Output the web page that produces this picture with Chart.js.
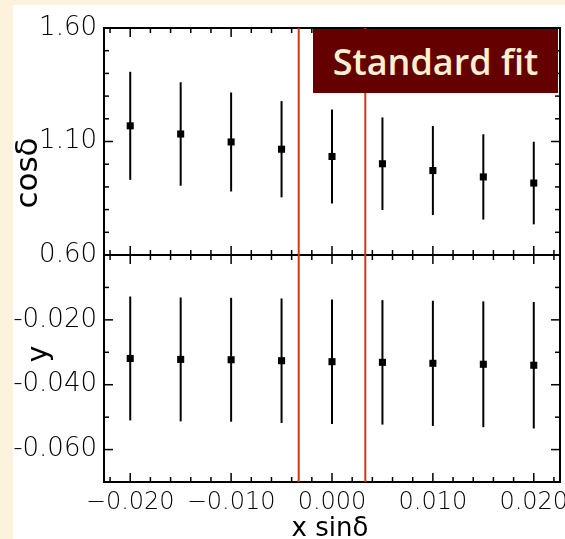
<!DOCTYPE html>
<html>
<head>
<meta charset="utf-8">
<script src="https://cdn.jsdelivr.net/npm/chart.js@4.4.1/dist/chart.umd.min.js"></script>
<style>
    html, body { margin: 0; padding: 0; background: #fdf2dc; width: 565px; height: 539px; overflow: hidden; }
    #wrap { position: absolute; left: 13px; top: 5px; width: 552px; height: 534px; background: #fff; }
    #fitbox {
        position: absolute; left: 313px; top: 29px; width: 245px; height: 64px;
        background: #640000; color: #fdf0d2;
        font: 600 36px 'Open Sans', sans-serif;
        display: flex; align-items: center; justify-content: center;
    }
</style>
</head>
<body>
<div id="wrap"><canvas id="chart" width="552" height="534"></canvas></div>
<div id="fitbox">Standard fit</div>
<script>
// x sin(delta) positions
var xValues = [-0.020, -0.015, -0.010, -0.005, 0.000, 0.005, 0.010, 0.015, 0.020];
// top panel: cos(delta) and its error
var cosDelta = [1.169, 1.133, 1.098, 1.066, 1.034, 1.002, 0.972, 0.944, 0.917];
var cosDeltaErr = [0.238, 0.228, 0.218, 0.212, 0.207, 0.204, 0.196, 0.188, 0.182];
// bottom panel: y and its error
var yValues = [-0.0319, -0.0322, -0.0323, -0.0326, -0.0329, -0.0331, -0.0334, -0.0337, -0.0340];
var yErr = [0.0191, 0.0191, 0.0191, 0.0192, 0.0192, 0.0192, 0.0193, 0.0194, 0.0195];
// standard fit range (red lines)
var fitEdges = [-0.0033, 0.0033];
// labelled ticks
var xMajorTicks = [-0.020, -0.010, 0.000, 0.010, 0.020];
var cosTicks = [0.60, 1.10, 1.60];
var yTicks = [-0.020, -0.040, -0.060];

var labelFont = "'DejaVu Sans', sans-serif";

function isMajor(v, list) {
    return list.some(function (m) { return Math.abs(m - v) < 1e-9; });
}

function line(ctx, x1, y1, x2, y2) {
    ctx.beginPath();
    ctx.moveTo(x1, y1);
    ctx.lineTo(x2, y2);
    ctx.stroke();
}

var panelPlugin = {
    id: 'panels',
    beforeDatasetsDraw: function (chart) {
        var ctx = chart.ctx;
        var x = chart.scales.x, yt = chart.scales.yTop, yb = chart.scales.yBot;
        ctx.save();
        ctx.lineWidth = 2;
        ctx.strokeStyle = '#000';
        // error bars
        xValues.forEach(function (v, i) {
            var px = x.getPixelForValue(v);
            line(ctx, px, yt.getPixelForValue(cosDelta[i] + cosDeltaErr[i]), px, yt.getPixelForValue(cosDelta[i] - cosDeltaErr[i]));
            line(ctx, px, yb.getPixelForValue(yValues[i] + yErr[i]), px, yb.getPixelForValue(yValues[i] - yErr[i]));
        });
        ctx.restore();
    },
    afterDraw: function (chart) {
        var ctx = chart.ctx, a = chart.chartArea;
        var x = chart.scales.x, yt = chart.scales.yTop, yb = chart.scales.yBot;
        ctx.save();
        ctx.strokeStyle = '#000';
        ctx.lineWidth = 2;
        // frame and panel divider
        ctx.strokeRect(a.left, a.top, a.right - a.left, a.bottom - a.top);
        line(ctx, a.left, yt.bottom, a.right, yt.bottom);
        // inward tick marks
        ctx.lineWidth = 1.5;
        x.ticks.forEach(function (t) {
            var px = x.getPixelForValue(t.value);
            var len = isMajor(t.value, xMajorTicks) ? 9 : 5;
            line(ctx, px, a.top, px, a.top + len);
            line(ctx, px, yt.bottom, px, yt.bottom - len);
            line(ctx, px, yb.top, px, yb.top + len);
            line(ctx, px, a.bottom, px, a.bottom - len);
        });
        [[yt, cosTicks], [yb, yTicks]].forEach(function (p) {
            var s = p[0];
            s.ticks.forEach(function (t) {
                var py = s.getPixelForValue(t.value);
                var len = isMajor(t.value, p[1]) ? 9 : 5;
                line(ctx, a.left, py, a.left + len, py);
                line(ctx, a.right, py, a.right - len, py);
            });
        });
        // standard fit edges
        ctx.lineWidth = 2;
        ctx.strokeStyle = '#cc3a14';
        fitEdges.forEach(function (v) {
            var px = x.getPixelForValue(v);
            line(ctx, px, a.top, px, a.bottom);
        });
        // axis titles
        ctx.fillStyle = '#000';
        ctx.textAlign = 'center';
        ctx.textBaseline = 'alphabetic';
        ctx.save();
        ctx.translate(24, 168);
        ctx.rotate(-Math.PI / 2);
        ctx.font = '31px ' + labelFont;
        ctx.fillText('cos\u03b4', 0, 0);
        ctx.restore();
        ctx.save();
        ctx.translate(34, 349);
        ctx.rotate(-Math.PI / 2);
        ctx.font = '28px ' + labelFont;
        ctx.fillText('y', 0, 0);
        ctx.restore();
        ctx.font = '26px ' + labelFont;
        ctx.fillText('x sin\u03b4', 317, 531);
        ctx.restore();
    }
};

function yFit(scale) {
    scale.width = 91;
    scale.paddingTop = 0;
    scale.paddingBottom = 0;
}

var ctx = document.getElementById('chart').getContext('2d');
var chart = new Chart(ctx, {
    type: 'scatter',
    data: {
        datasets: [{
            data: xValues.map(function (v, i) { return { x: v, y: yValues[i] }; }),
            yAxisID: 'yBot'
        }, {
            data: xValues.map(function (v, i) { return { x: v, y: cosDelta[i] }; }),
            yAxisID: 'yTop'
        }]
    },
    options: {
        responsive: false,
        animation: false,
        events: [],
        layout: { padding: { top: 23, right: 3, left: 0, bottom: 0 } },
        elements: {
            point: { pointStyle: 'rect', radius: 5, backgroundColor: '#000', borderWidth: 0 }
        },
        plugins: { legend: { display: false }, tooltip: { enabled: false } },
        scales: {
            x: {
                type: 'linear',
                min: -0.0226,
                max: 0.0226,
                grid: { display: false, drawTicks: false },
                border: { display: false },
                afterBuildTicks: function (scale) {
                    var t = [];
                    for (var i = -11; i <= 11; i++) t.push({ value: i * 0.002 });
                    scale.ticks = t;
                },
                afterFit: function (scale) {
                    scale.height = 57;
                    scale.paddingLeft = 0;
                    scale.paddingRight = 0;
                },
                ticks: {
                    autoSkip: false,
                    maxRotation: 0,
                    padding: 6,
                    color: '#000',
                    font: { family: labelFont, size: 24, weight: '200' },
                    callback: function (v) {
                        if (!isMajor(v, xMajorTicks)) return '';
                        var r = Math.round(v * 1000);
                        return (r < 0 ? '\u2212' : '') + Math.abs(v).toFixed(3);
                    }
                }
            },
            yBot: {
                type: 'linear',
                position: 'left',
                stack: 'panels',
                stackWeight: 1,
                min: -0.070,
                max: 0.000,
                grid: { display: false, drawTicks: false },
                border: { display: false },
                afterBuildTicks: function (scale) {
                    var t = [];
                    for (var i = -7; i <= 0; i++) t.push({ value: i / 100 });
                    scale.ticks = t;
                },
                afterFit: yFit,
                ticks: {
                    autoSkip: false,
                    padding: 7,
                    color: '#000',
                    font: { family: labelFont, size: 26, weight: '200' },
                    callback: function (v) {
                        if (!isMajor(v, yTicks)) return '';
                        return '-' + Math.abs(v).toFixed(3);
                    }
                }
            },
            yTop: {
                type: 'linear',
                position: 'left',
                stack: 'panels',
                stackWeight: 1,
                min: 0.60,
                max: 1.60,
                grid: { display: false, drawTicks: false },
                border: { display: false },
                afterBuildTicks: function (scale) {
                    var t = [];
                    for (var i = 6; i <= 16; i++) t.push({ value: i / 10 });
                    scale.ticks = t;
                },
                afterFit: yFit,
                ticks: {
                    autoSkip: false,
                    padding: 7,
                    color: '#000',
                    font: { family: labelFont, size: 26, weight: '200' },
                    callback: function (v) {
                        return isMajor(v, cosTicks) ? v.toFixed(2) : '';
                    }
                }
            }
        }
    },
    plugins: [panelPlugin]
});
</script>
</body>
</html>
